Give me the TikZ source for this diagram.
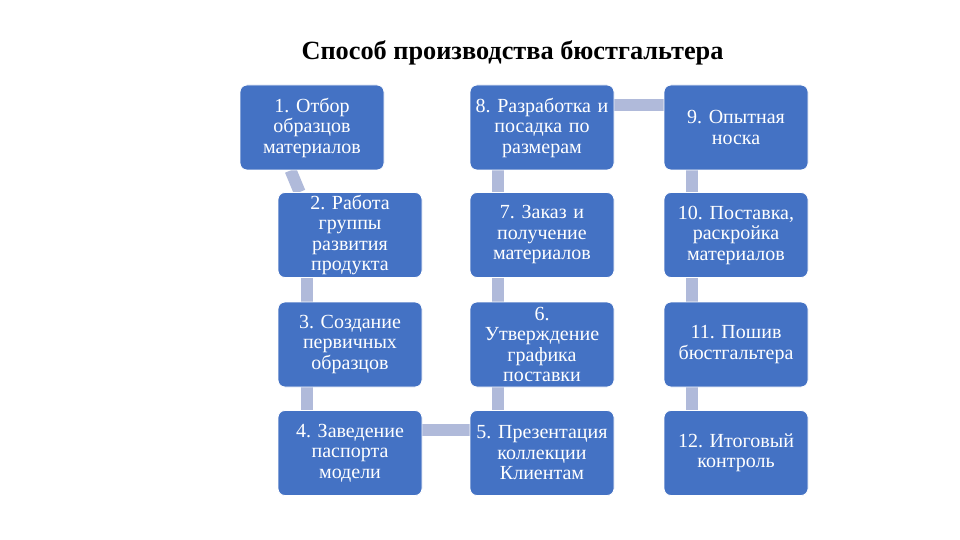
\documentclass[tikz,border=0pt]{standalone}
\usepackage{fontspec}
\setmainfont{Liberation Serif}
\usetikzlibrary{backgrounds}
\definecolor{stepblue}{RGB}{68,114,196}
\definecolor{linkgray}{RGB}{176,186,218}
\frenchspacing

\begin{document}
\begin{tikzpicture}[x=1pt,y=-1pt,
    stage/.style={draw=white,line width=0.8pt,fill=stepblue,rounded corners=7pt,
      minimum width=144pt,minimum height=85pt,text width=140pt,inner sep=0pt,
      align=center,text=white,font=\fontsize{20}{20.5}\selectfont},
    link/.style={linkgray,line width=12pt}]
  \useasboundingbox (0,0) rectangle (960,540);
  \node[font=\bfseries\fontsize{26.3}{30}\selectfont] (title) at (512.5,53) {Способ производства бюстгальтера};
  % left part
  \node[stage] (s1) at (312,127.5) {1. Отбор\\образцов\\материалов};
  \node[stage] (s2) at (350,235)   {2. Работа\\группы\\развития\\продукта};
  \node[stage] (s3) at (350,344.5) {3. Создание\\первичных\\образцов};
  \node[stage] (s4) at (350,453)   {4. Заведение\\паспорта\\модели};
  % middle column, bottom to top
  \node[stage] (s5) at (542,453)   {5. Презентация\\коллекции\\Клиентам};
  \node[stage] (s6) at (542,344.5) {6.\\Утверждение\\графика\\поставки};
  \node[stage] (s7) at (542,235)   {7. Заказ и\\получение\\материалов};
  \node[stage] (s8) at (542,127.5) {8. Разработка и\\посадка по\\размерам};
  % right column
  \node[stage] (s9)  at (736,127.5) {9. Опытная\\носка};
  \node[stage] (s10) at (736,235)   {10. Поставка,\\раскройка\\материалов};
  \node[stage] (s11) at (736,344.5) {11. Пошив\\бюстгальтера};
  \node[stage] (s12) at (736,453)   {12. Итоговый\\контроль};
  \begin{scope}[on background layer]
    \draw[link] ([xshift=51pt]s1.south west) -- ([xshift=22pt]s2.north west);
    \draw[link] ([xshift=29pt]s2.south west) -- ([xshift=29pt]s3.north west);
    \draw[link] ([xshift=29pt]s3.south west) -- ([xshift=29pt]s4.north west);
    \draw[link] ([yshift=-20pt]s4.north east) -- ([yshift=-20pt]s5.north west);
    \draw[link] ([xshift=28pt]s5.north west) -- ([xshift=28pt]s6.south west);
    \draw[link] ([xshift=28pt]s6.north west) -- ([xshift=28pt]s7.south west);
    \draw[link] ([xshift=28pt]s7.north west) -- ([xshift=28pt]s8.south west);
    \draw[link] ([yshift=-20pt]s8.north east) -- ([yshift=-20pt]s9.north west);
    \draw[link] ([xshift=28pt]s9.south west) -- ([xshift=28pt]s10.north west);
    \draw[link] ([xshift=28pt]s10.south west) -- ([xshift=28pt]s11.north west);
    \draw[link] ([xshift=28pt]s11.south west) -- ([xshift=28pt]s12.north west);
  \end{scope}
\end{tikzpicture}
\end{document}
